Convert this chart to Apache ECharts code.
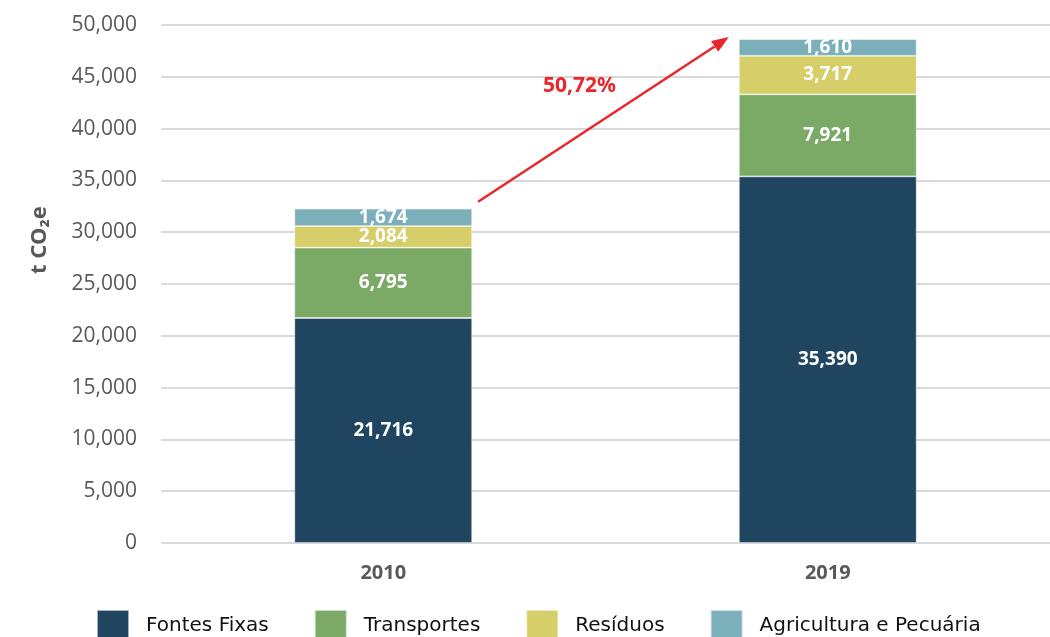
<!DOCTYPE html>
<html>
<head>
<meta charset="utf-8">
<script src="https://cdn.jsdelivr.net/npm/echarts@6/dist/echarts.min.js"></script>
<style>
  html, body { margin: 0; padding: 0; background: #fff; }
  #chart { width: 1050px; height: 637px; }
</style>
</head>
<body>
<div id="chart"></div>
<script>
var years = ['2010', '2019'];
var fontesFixas = [21716, 35390];
var transportes = [6795, 7921];
var residuos = [2084, 3717];
var agricultura = [1674, 1610];
var growthLabel = '50,72%';
var yTicks = { min: 0, max: 50000, interval: 5000 };

var chart = echarts.init(document.getElementById('chart'));

function serie(name, data, color) {
  return {
    name: name,
    type: 'bar',
    stack: 'total',
    data: data,
    barWidth: '40%',
    itemStyle: { color: color, borderColor: 'rgba(255,255,255,0.6)', borderWidth: 0.8 },
    label: {
      show: true,
      position: 'inside',
      color: '#fff',
      fontFamily: 'Open Sans',
      fontWeight: 'bold',
      fontSize: 19,
      formatter: function (p) { return echarts.format.addCommas(p.value); }
    }
  };
}

var option = {
  animation: false,
  backgroundColor: '#fff',
  grid: { left: 161, right: 0, top: 25, bottom: 94 },
  legend: {
    left: 91,
    top: 604,
    icon: 'rect',
    itemWidth: 32,
    itemHeight: 31,
    itemGap: 45,
    textStyle: { fontFamily: 'DejaVu Sans', fontSize: 20, color: '#111', padding: [3, 0, 0, 12] }
  },
  xAxis: {
    type: 'category',
    data: years,
    axisLine: { show: false },
    axisTick: { show: false },
    axisLabel: { color: '#595959', fontFamily: 'Open Sans', fontWeight: 'bold', fontSize: 20, margin: 20 }
  },
  yAxis: {
    type: 'value',
    min: yTicks.min,
    max: yTicks.max,
    interval: yTicks.interval,
    name: 't CO\u2082e',
    nameLocation: 'middle',
    nameGap: 110,
    nameTextStyle: { color: '#595959', fontFamily: 'Noto Sans', fontWeight: 'bold', fontSize: 22, padding: [0, 0, 0, 88] },
    axisLabel: { color: '#595959', fontFamily: 'Open Sans', fontSize: 21, margin: 24 },
    splitLine: { lineStyle: { color: '#d9d9d9', width: 2 } }
  },
  series: [
    serie('Fontes Fixas', fontesFixas, '#1f4560'),
    serie('Transportes', transportes, '#7aaa65'),
    serie('Resíduos', residuos, '#d5ce69'),
    serie('Agricultura e Pecuária', agricultura, '#7bb0ba')
  ]
};

chart.setOption(option);

// arrow between the tops of the two stacks
var totals = years.map(function (y, i) {
  return fontesFixas[i] + transportes[i] + residuos[i] + agricultura[i];
});
var a = chart.convertToPixel({ seriesIndex: 0 }, [0, totals[0]]);
var b = chart.convertToPixel({ seriesIndex: 0 }, [1, totals[1]]);
var halfBar = (b[0] - a[0]) * 0.4 / 2;
var x1 = a[0] + halfBar + 6, y1 = a[1] - 7;
var x2 = b[0] - halfBar - 10, y2 = b[1] - 2;
var ang = Math.atan2(y2 - y1, x2 - x1);
var hl = 17, hw = 6.5;
var bx = x2 - hl * Math.cos(ang), by = y2 - hl * Math.sin(ang);
var red = '#e8262b';

chart.setOption({
  graphic: [
    {
      type: 'line',
      shape: { x1: x1, y1: y1, x2: bx, y2: by },
      style: { stroke: red, lineWidth: 2.5 }
    },
    {
      type: 'polygon',
      shape: {
        points: [
          [x2, y2],
          [bx + hw * Math.sin(ang), by - hw * Math.cos(ang)],
          [bx - hw * Math.sin(ang), by + hw * Math.cos(ang)]
        ]
      },
      style: { fill: red }
    },
    {
      type: 'text',
      x: (x1 + x2) / 2 - 24,
      y: (y1 + y2) / 2 - 33,
      style: {
        text: growthLabel,
        fill: red,
        font: 'bold 21px "Noto Sans"',
        align: 'center',
        verticalAlign: 'middle'
      }
    }
  ]
});
</script>
</body>
</html>
